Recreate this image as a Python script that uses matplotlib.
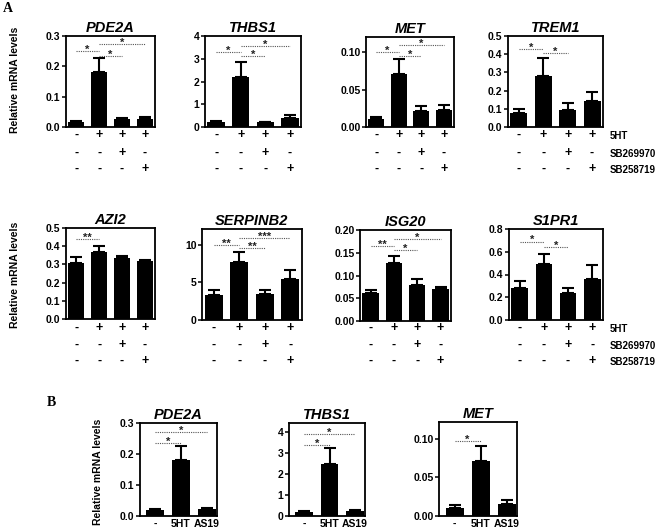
import matplotlib
matplotlib.use("Agg")
import matplotlib.pyplot as plt
from matplotlib.transforms import blended_transform_factory

plt.rcParams['font.family'] = ['Liberation Sans', 'DejaVu Sans']
plt.rcParams['font.weight'] = 'bold'

# ---------------- data ----------------
genes_a = ["PDE2A", "THBS1", "MET", "TREM1", "AZI2", "SERPINB2", "ISG20", "S1PR1"]
means_a = [
    [0.018, 0.180, 0.025, 0.028],
    [0.20, 2.20, 0.20, 0.40],
    [0.011, 0.071, 0.021, 0.023],
    [0.075, 0.280, 0.095, 0.142],
    [0.310, 0.370, 0.333, 0.318],
    [3.3, 7.7, 3.4, 5.4],
    [0.062, 0.127, 0.080, 0.070],
    [0.28, 0.49, 0.24, 0.36],
]
errs_a = [
    [0.003, 0.047, 0.005, 0.005],
    [0.05, 0.67, 0.04, 0.11],
    [0.003, 0.020, 0.007, 0.007],
    [0.025, 0.100, 0.035, 0.050],
    [0.030, 0.030, 0.015, 0.006],
    [0.65, 1.3, 0.6, 1.2],
    [0.006, 0.015, 0.012, 0.005],
    [0.06, 0.09, 0.04, 0.12],
]
ymax_a = [0.3, 4, 0.12, 0.5, 0.5, 12.1, 0.2, 0.8]
yticks_a = [
    [0, 0.1, 0.2, 0.3], [0, 1, 2, 3, 4], [0, 0.05, 0.10], [0, 0.1, 0.2, 0.3, 0.4, 0.5],
    [0, 0.1, 0.2, 0.3, 0.4, 0.5], [0, 5, 10], [0, 0.05, 0.10, 0.15, 0.20], [0, 0.2, 0.4, 0.6, 0.8],
]
ytickfmt_a = ["%.1f", "%d", "%.2f", "%.1f", "%.1f", "%d", "%.2f", "%.1f"]
sig_a = [
    [(0, 1, 0.250, "*"), (1, 2, 0.235, "*"), (1, 3, 0.272, "*")],
    [(0, 1, 3.30, "*"), (1, 2, 3.10, "*"), (1, 3, 3.55, "*")],
    [(0, 1, 0.100, "*"), (1, 2, 0.095, "*"), (1, 3, 0.109, "*")],
    [(0, 1, 0.430, "*"), (1, 2, 0.408, "*")],
    [(0, 1, 0.440, "**")],
    [(0, 1, 10.0, "**"), (1, 2, 9.6, "**"), (1, 3, 10.9, "***")],
    [(0, 1, 0.165, "**"), (1, 2, 0.155, "*"), (1, 3, 0.180, "*")],
    [(0, 1, 0.690, "*"), (1, 2, 0.640, "*")],
]
treat_names = ["5HT", "SB269970", "SB258719"]
treat_signs = [
    ["-", "+", "+", "+"],
    ["-", "-", "+", "-"],
    ["-", "-", "-", "+"],
]

genes_b = ["PDE2A", "THBS1", "MET"]
cats_b = ["-", "5HT", "AS19"]
means_b = [
    [0.018, 0.180, 0.022],
    [0.20, 2.48, 0.25],
    [0.011, 0.071, 0.016],
]
errs_b = [
    [0.003, 0.047, 0.004],
    [0.05, 0.77, 0.04],
    [0.003, 0.020, 0.005],
]
ymax_b = [0.3, 4.43, 0.122]
yticks_b = [[0, 0.1, 0.2, 0.3], [0, 1, 2, 3, 4], [0, 0.05, 0.10]]
ytickfmt_b = ["%.1f", "%d", "%.2f"]
sig_b = [
    [(0, 1, 0.235, "*"), (0, 2, 0.270, "*")],
    [(0, 1, 3.40, "*"), (0, 2, 3.90, "*")],
    [(0, 1, 0.097, "*")],
]

# ---------------- layout (pixels) ----------------
W, H = 660, 529
fig = plt.figure(figsize=(W / 100, H / 100), dpi=100)


def px_axes(x0, x1, ytop, ybot):
    return fig.add_axes([x0 / W, 1 - ybot / H, (x1 - x0) / W, (ybot - ytop) / H])


a_boxes = [
    (66, 155, 36, 127), (205, 301, 36, 127), (366, 454, 37, 127), (508, 603, 36, 127),
    (66, 155, 228, 319), (202, 302, 229, 320), (360, 451, 230, 321), (509, 603, 229, 320),
]
sign_rows_y = [[135, 153, 169], [328, 345, 361]]
b_boxes = [(140, 217, 423, 516), (289, 365, 423, 516), (439, 517, 422, 516)]


def style_axes(ax, ymax, ticks, fmt):
    ax.set_ylim(0, ymax)
    ax.set_yticks(ticks)
    ax.set_yticklabels([fmt % t for t in ticks], fontsize=7.5, fontweight='bold')
    for s in ax.spines.values():
        s.set_linewidth(1.3)
    ax.tick_params(axis='y', length=3, width=1.1, pad=1)


def draw_sig(ax, sigs):
    for i, j, y, txt in sigs:
        ax.plot([i, j], [y, y], color='#555555', lw=0.8, ls=(0, (1, 1)))
        ax.annotate(txt, xy=((i + j) / 2, y), xytext=(0, -1.3), textcoords='offset points',
                    ha='center', va='baseline', fontsize=8, fontweight='bold',
                    color='#222222')


for k, g in enumerate(genes_a):
    x0, x1, yt, yb = a_boxes[k]
    ax = px_axes(x0, x1, yt, yb)
    xs = list(range(4))
    ax.bar(xs, means_a[k], width=0.7, color='black', zorder=2)
    ax.errorbar(xs, means_a[k], yerr=[[0] * 4, errs_a[k]], fmt='none', ecolor='black',
                elinewidth=1.5, capsize=4, capthick=1.5, zorder=3)
    ax.set_xlim(-0.45, 3.45)
    ax.set_xticks([])
    style_axes(ax, ymax_a[k], yticks_a[k], ytickfmt_a[k])
    ax.set_title(g, fontsize=10.5, fontweight='bold', style='italic', pad=3)
    draw_sig(ax, sig_a[k])
    row = k // 4
    tr = blended_transform_factory(ax.transData, fig.transFigure)
    for r in range(3):
        for c in range(4):
            ax.text(xs[c], 1 - sign_rows_y[row][r] / H, treat_signs[r][c], transform=tr,
                    ha='center', va='center', fontsize=9, fontweight='bold')
    if k % 4 == 3:
        for r in range(3):
            fig.text(610 / W, 1 - (sign_rows_y[row][r] + 1) / H, treat_names[r],
                     ha='left', va='center', fontsize=7, fontweight='bold')

for k, g in enumerate(genes_b):
    x0, x1, yt, yb = b_boxes[k]
    ax = px_axes(x0, x1, yt, yb)
    xs = list(range(3))
    ax.bar(xs, means_b[k], width=0.7, color='black', zorder=2)
    ax.errorbar(xs, means_b[k], yerr=[[0] * 3, errs_b[k]], fmt='none', ecolor='black',
                elinewidth=1.5, capsize=4, capthick=1.5, zorder=3)
    ax.set_xlim(-0.6, 2.4)
    ax.set_xticks(xs)
    ax.set_xticklabels(cats_b, fontsize=7.5, fontweight='bold')
    ax.tick_params(axis='x', length=0, pad=2)
    style_axes(ax, ymax_b[k], yticks_b[k], ytickfmt_b[k])
    ax.set_title(g, fontsize=10.5, fontweight='bold', style='italic', pad=3)
    draw_sig(ax, sig_b[k])

# y labels
fig.text(15 / W, 1 - 80 / H, "Relative mRNA levels", rotation=90, ha='center', va='center',
         fontsize=7.5, fontweight='bold')
fig.text(15 / W, 1 - 275 / H, "Relative mRNA levels", rotation=90, ha='center', va='center',
         fontsize=7.5, fontweight='bold')
fig.text(98 / W, 1 - 472 / H, "Relative mRNA levels", rotation=90, ha='center', va='center',
         fontsize=7.5, fontweight='bold')

# panel letters
fig.text(3 / W, 1 - 8 / H, "A", ha='left', va='center', fontsize=10, fontweight='bold',
         family=['Liberation Serif', 'DejaVu Serif'])
fig.text(47 / W, 1 - 402 / H, "B", ha='left', va='center', fontsize=10, fontweight='bold',
         family=['Liberation Serif', 'DejaVu Serif'])

fig.savefig("out.png", dpi=100)
